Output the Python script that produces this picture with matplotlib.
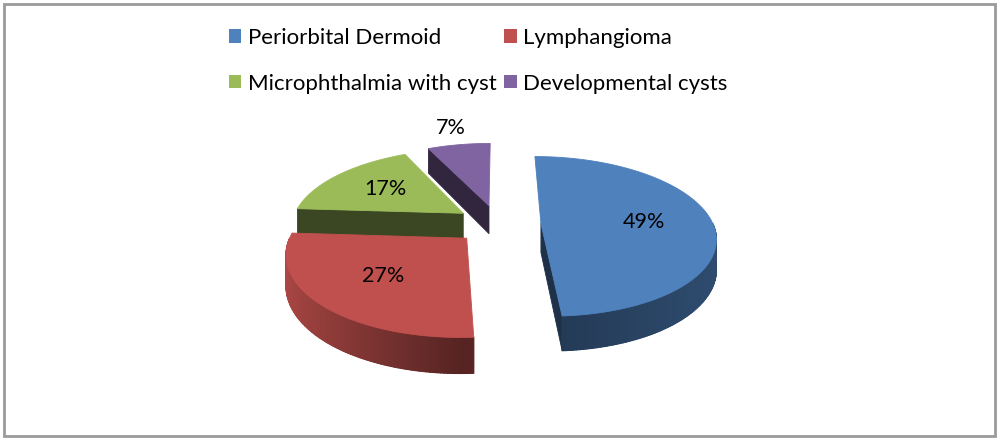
import numpy as np
import matplotlib
matplotlib.use("Agg")
import matplotlib.pyplot as plt
from matplotlib.patches import Polygon, Patch, Rectangle
from matplotlib.colors import to_rgb

plt.rcParams['font.family'] = ['Lato', 'DejaVu Sans']

categories = ["Periorbital Dermoid", "Lymphangioma",
              "Microphthalmia with cyst", "Developmental cysts"]
shares = [49, 27, 17, 7]
pct_labels = ["49%", "27%", "17%", "7%"]
colors = ["#4F81BD", "#C0504D", "#9BBB59", "#8064A2"]

# 3d look (pixels and radius units)
CX, CY, R = 498, 224, 172
SIN_E, COS_E = 0.453, 0.89
PERSP = 0.163
THICK = 0.19
EXPLODE = 0.25


def project(x, y, z=0.0):
    s = 1.0 / (1.0 + PERSP * y)
    return CX + R * x * s, CY - R * (SIN_E * y + COS_E * z) * s


def shade(color, f):
    return tuple(np.clip(np.array(to_rgb(color)) * f, 0, 1))


def face(ax, pts, color, lw=0.6):
    xy = [project(*p) for p in pts]
    ax.add_patch(Polygon(xy, closed=True, facecolor=color, edgecolor=color,
                         lw=lw, joinstyle='round'))


def wall_shade(t):
    return 0.45 + 0.45 * max(0, -np.cos(t)) + 0.15 * max(0, np.cos(t))


def draw_slice(ax, t0, t1, ox, oy, color):
    n = max(int(np.degrees(t0 - t1)), 2) + 1
    th = np.linspace(t0, t1, n)
    # cut faces that look toward the viewer
    for t, sign in ((t0, 1), (t1, -1)):
        if np.sin(t + sign * np.pi / 2) < -1e-3:
            ex, ey = ox + np.cos(t), oy + np.sin(t)
            face(ax, [(ox, oy, 0), (ex, ey, 0), (ex, ey, -THICK), (ox, oy, -THICK)],
                 shade(color, 0.38))
    # outer wall, front half only
    front = [t for t in th if np.sin(t) <= 0]
    if len(front) > 1:
        top_edge = [(ox + np.cos(t), oy + np.sin(t), 0) for t in front]
        bot_edge = [(ox + np.cos(t), oy + np.sin(t), -THICK) for t in front[::-1]]
        face(ax, top_edge + bot_edge,
             shade(color, wall_shade(front[len(front) // 2])), lw=0.3)
        for a, b in zip(front[:-1], front[1:]):
            pa = (ox + np.cos(a), oy + np.sin(a))
            pb = (ox + np.cos(b), oy + np.sin(b))
            face(ax, [(*pa, 0), (*pb, 0), (*pb, -THICK), (*pa, -THICK)],
                 shade(color, wall_shade((a + b) / 2)), lw=0.9)
    # top
    top = [(ox, oy, 0)] + [(ox + np.cos(t), oy + np.sin(t), 0) for t in th]
    face(ax, top, color)


fig = plt.figure(figsize=(10, 4.41), dpi=100)
ax = fig.add_axes([0, 0, 1, 1])
ax.set_xlim(0, 1000)
ax.set_ylim(441, 0)
ax.axis('off')

total = sum(shares)
bounds = np.concatenate([[0], np.cumsum(shares)]) / total * 360
parts = []
for i in range(len(shares)):
    t0 = np.radians(90 - bounds[i])
    t1 = np.radians(90 - bounds[i + 1])
    tm = (t0 + t1) / 2
    parts.append((t0, t1, tm, EXPLODE * np.cos(tm), EXPLODE * np.sin(tm), i))

# paint from back to front
for t0, t1, tm, ox, oy, i in sorted(parts, key=lambda p: -p[4]):
    draw_slice(ax, t0, t1, ox, oy, colors[i])

for t0, t1, tm, ox, oy, i in parts:
    r = 1.32 if shares[i] < 10 else 0.6
    lx, ly = project(ox + r * np.cos(tm), oy + r * np.sin(tm))
    ax.text(lx, ly, pct_labels[i], ha='center', va='center',
            fontsize=15.5, color='black')

handles = [Patch(facecolor=c, edgecolor='none') for c in colors]
order = [0, 2, 1, 3]
fig.legend([handles[i] for i in order], [categories[i] for i in order],
           ncol=2, loc='upper left', bbox_to_anchor=(0.229, 1 - 28 / 441),
           frameon=False, fontsize=16, handlelength=0.55, handleheight=0.55,
           handletextpad=0.3, columnspacing=0.35, labelspacing=1.15,
           borderpad=0, borderaxespad=0)

fig.add_artist(Rectangle((0.004, 0.012), 0.991, 0.978, transform=fig.transFigure,
                         fill=False, edgecolor='#9a9a9a', lw=2))

fig.savefig("out.png", dpi=100)
